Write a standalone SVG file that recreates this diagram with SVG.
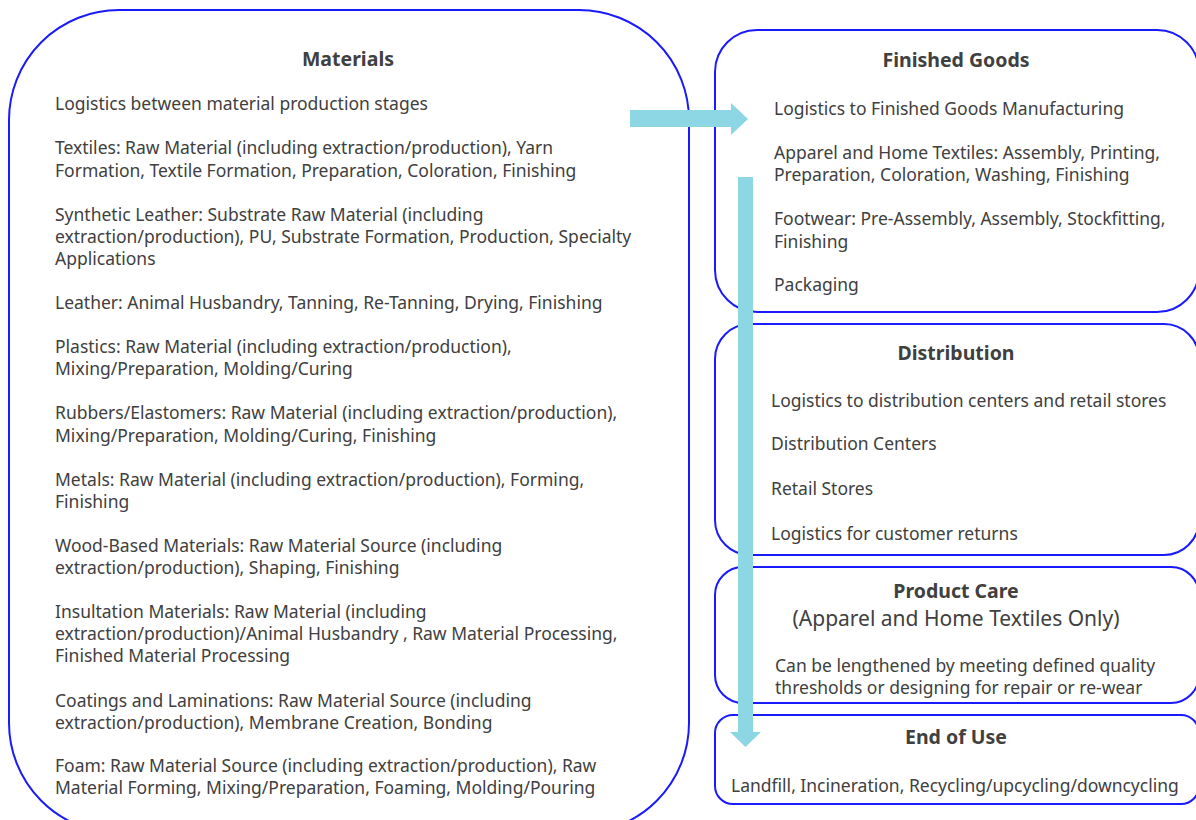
<svg xmlns="http://www.w3.org/2000/svg" width="1196" height="820" viewBox="0 0 1196 820">
<style>
.box{fill:#fff;stroke:#1a1aff;stroke-width:2}
.t{font-family:"Noto Sans","Liberation Sans",sans-serif;font-size:17.5px;fill:#404040}
.r{font-family:"Noto Sans","Liberation Sans",sans-serif;font-size:17.5px;fill:#404040}
.h{font-family:"Noto Sans","Liberation Sans",sans-serif;font-size:19.5px;font-weight:bold;fill:#404040;text-anchor:middle}
.sub{font-family:"Noto Sans","Liberation Sans",sans-serif;font-size:21px;fill:#404040;text-anchor:middle}
.arrow{fill:#8dd6e4}
</style>
<rect width="1196" height="820" fill="#fff"/>
<g id="materials">
<rect class="box" x="9" y="10" width="680" height="823" rx="110" ry="110"/>
<text class="h" x="348" y="66">Materials</text>
<text class="t" x="55" y="110">Logistics between material production stages</text>
<text class="t" x="55" y="154">Textiles: Raw Material (including extraction/production), Yarn</text>
<text class="t" x="55" y="177">Formation, Textile Formation, Preparation, Coloration, Finishing</text>
<text class="t" x="55" y="221">Synthetic Leather: Substrate Raw Material (including</text>
<text class="t" x="55" y="243">extraction/production), PU, Substrate Formation, Production, Specialty</text>
<text class="t" x="55" y="265">Applications</text>
<text class="t" x="55" y="309">Leather: Animal Husbandry, Tanning, Re-Tanning, Drying, Finishing</text>
<text class="t" x="55" y="353">Plastics: Raw Material (including extraction/production),</text>
<text class="t" x="55" y="375">Mixing/Preparation, Molding/Curing</text>
<text class="t" x="55" y="419">Rubbers/Elastomers: Raw Material (including extraction/production),</text>
<text class="t" x="55" y="442">Mixing/Preparation, Molding/Curing, Finishing</text>
<text class="t" x="55" y="486">Metals: Raw Material (including extraction/production), Forming,</text>
<text class="t" x="55" y="508">Finishing</text>
<text class="t" x="55" y="552">Wood-Based Materials: Raw Material Source (including</text>
<text class="t" x="55" y="574">extraction/production), Shaping, Finishing</text>
<text class="t" x="55" y="618">Insultation Materials: Raw Material (including</text>
<text class="t" x="55" y="640">extraction/production)/Animal Husbandry , Raw Material Processing,</text>
<text class="t" x="55" y="662">Finished Material Processing</text>
<text class="t" x="55" y="707">Coatings and Laminations: Raw Material Source (including</text>
<text class="t" x="55" y="729">extraction/production), Membrane Creation, Bonding</text>
<text class="t" x="55" y="772">Foam: Raw Material Source (including extraction/production), Raw</text>
<text class="t" x="55" y="794">Material Forming, Mixing/Preparation, Foaming, Molding/Pouring</text>
</g>
<g id="finished-goods">
<rect class="box" x="715" y="30" width="484" height="282" rx="42" ry="42"/>
<text class="h" x="956" y="67">Finished Goods</text>
<text class="r" x="774" y="115">Logistics to Finished Goods Manufacturing</text>
<text class="r" x="774" y="159">Apparel and Home Textiles: Assembly, Printing,</text>
<text class="r" x="774" y="181">Preparation, Coloration, Washing, Finishing</text>
<text class="r" x="774" y="225">Footwear: Pre-Assembly, Assembly, Stockfitting,</text>
<text class="r" x="774" y="248">Finishing</text>
<text class="r" x="774" y="291">Packaging</text>
</g>
<g id="distribution">
<rect class="box" x="715" y="324" width="484" height="231" rx="35" ry="35"/>
<text class="h" x="956" y="360">Distribution</text>
<text class="r" x="771" y="407">Logistics to distribution centers and retail stores</text>
<text class="r" x="771" y="450">Distribution Centers</text>
<text class="r" x="771" y="495">Retail Stores</text>
<text class="r" x="771" y="540">Logistics for customer returns</text>
</g>
<g id="product-care">
<rect class="box" x="715" y="567" width="484" height="136" rx="28" ry="28"/>
<text class="h" x="956" y="598">Product Care</text>
<text class="sub" x="956" y="626">(Apparel and Home Textiles Only)</text>
<text class="r" x="775" y="672">Can be lengthened by meeting defined quality</text>
<text class="r" x="775" y="694">thresholds or designing for repair or re-wear</text>
</g>
<g id="end-of-use">
<rect class="box" x="715" y="715" width="484" height="89" rx="18" ry="18"/>
<text class="h" x="956" y="744">End of Use</text>
<text class="r" x="731" y="792">Landfill, Incineration, Recycling/upcycling/downcycling</text>
</g>
<g id="connectors">
<polygon class="arrow" points="630,110 731,110 731,103 748,119 731,135 731,127 630,127"/>
<polygon class="arrow" points="738,177 753,177 753,732 761,732 745.5,747 730,732 738,732"/>
</g>
</svg>
